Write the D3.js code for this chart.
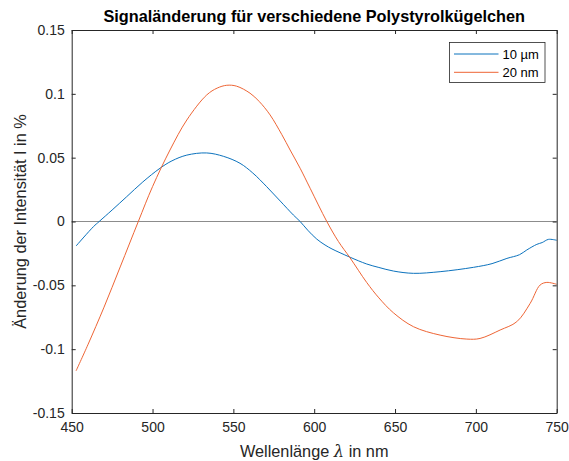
<!DOCTYPE html>
<html>
<head>
<meta charset="utf-8">
<script src="https://cdn.jsdelivr.net/npm/d3@7"></script>
<style>
  body { margin: 0; background: #fff; }
  svg { display: block; font-family: "Liberation Sans", Arial, sans-serif; }
</style>
</head>
<body>
<div id="chart"></div>
<script>
// wavelength (nm) and signal change for the two particle sizes
const lambdaBlue = [452.7, 463.4, 467, 475, 484, 494, 504.6, 512, 521.2, 533.5, 544, 554.1, 562, 570.6, 579, 587.1, 591.3, 596, 601.6, 606.7, 611, 616, 622.2, 632.5, 640, 649, 661.4, 677.9, 698.5, 710, 719.2, 727, 731.5, 737.7, 741, 744.9, 750];
const valuesBlue = [-0.0192, -0.0041, 0, 0.009, 0.0194, 0.031, 0.0417, 0.0475, 0.052, 0.0537, 0.051, 0.0456, 0.038, 0.0273, 0.016, 0.0051, 0, -0.0068, -0.0138, -0.0184, -0.0215, -0.0245, -0.028, -0.0333, -0.036, -0.0388, -0.0406, -0.0393, -0.0359, -0.033, -0.0289, -0.026, -0.0223, -0.0179, -0.0165, -0.014, -0.0147];

const lambdaOrange = [452.7, 460, 470, 480, 491.2, 500, 510.8, 521.2, 533.5, 540, 545.9, 552, 560.3, 566, 572.7, 580, 585.1, 591.3, 597.5, 607.8, 615, 622.2, 632.5, 640, 649, 661.4, 677.9, 694.4, 702.6, 715, 725.3, 733.6, 739.7, 743.9, 750];
const valuesOrange = [-0.117, -0.0966, -0.0671, -0.0356, 0, 0.0273, 0.056, 0.0795, 0.0991, 0.1045, 0.1067, 0.106, 0.1005, 0.094, 0.0835, 0.068, 0.056, 0.0417, 0.026, 0, -0.0157, -0.0285, -0.0478, -0.0598, -0.0715, -0.0824, -0.089, -0.0921, -0.0916, -0.085, -0.0785, -0.0641, -0.0498, -0.0477, -0.0492];

const seriesNames = ["10 µm", "20 nm"];
const seriesColors = ["#0b72bd", "#ee6535"];
const xTicks = [450, 500, 550, 600, 650, 700, 750];
const yTicks = [-0.15, -0.1, -0.05, 0, 0.05, 0.1, 0.15];
const yTickLabels = ["-0.15", "-0.1", "-0.05", "0", "0.05", "0.1", "0.15"];

const width = 569, height = 461;
const margin = { top: 30, right: 12.3, bottom: 48, left: 71.7 };
const axisColor = "#262626";

const svg = d3.select("#chart").append("svg")
    .attr("width", width).attr("height", height);

const x = d3.scaleLinear().domain([450, 750]).range([margin.left, width - margin.right]);
const y = d3.scaleLinear().domain([-0.15, 0.15]).range([height - margin.bottom, margin.top]);

// zero line
svg.append("line")
    .attr("x1", x(450)).attr("x2", x(750))
    .attr("y1", y(0)).attr("y2", y(0))
    .attr("stroke", "#8c8c8c").attr("stroke-width", 1);

const line = d3.line().x(d => x(d[0])).y(d => y(d[1])).curve(d3.curveCatmullRom.alpha(0.5));

const series = [
    d3.zip(lambdaBlue, valuesBlue),
    d3.zip(lambdaOrange, valuesOrange)
];

series.forEach((s, i) => {
    svg.append("path")
        .datum(s)
        .attr("d", line)
        .attr("fill", "none")
        .attr("stroke", seriesColors[i])
        .attr("stroke-width", 1);
});

// axes, ticks inward on all four sides (box on)
const tickLen = 4;
function styleAxis(g) {
    g.select(".domain").attr("stroke", axisColor).attr("stroke-width", 1);
    g.selectAll(".tick line").attr("stroke", axisColor);
    g.selectAll(".tick text").attr("fill", axisColor).attr("font-size", "14px")
        .attr("font-family", "Liberation Sans, Arial, sans-serif");
}

svg.append("g")
    .attr("transform", `translate(0,${y(-0.15)})`)
    .call(d3.axisBottom(x).tickValues(xTicks).tickSize(-tickLen).tickSizeOuter(0).tickPadding(9))
    .call(styleAxis);

svg.append("g")
    .attr("transform", `translate(0,${y(0.15)})`)
    .call(d3.axisTop(x).tickValues(xTicks).tickSize(-tickLen).tickSizeOuter(0).tickFormat(""))
    .call(styleAxis);

svg.append("g")
    .attr("transform", `translate(${x(450)},0)`)
    .call(d3.axisLeft(y).tickValues(yTicks).tickSize(-tickLen).tickSizeOuter(0).tickPadding(7)
        .tickFormat((d, i) => yTickLabels[i]))
    .call(styleAxis);

svg.append("g")
    .attr("transform", `translate(${x(750)},0)`)
    .call(d3.axisRight(y).tickValues(yTicks).tickSize(-tickLen).tickSizeOuter(0).tickFormat(""))
    .call(styleAxis);

// title
svg.append("text")
    .attr("x", (x(450) + x(750)) / 2).attr("y", 22)
    .attr("text-anchor", "middle")
    .attr("font-size", "16.3px").attr("font-weight", "bold").attr("fill", "#000")
    .text("Signaländerung für verschiedene Polystyrolkügelchen");

// axis labels
const xLabel = svg.append("text")
    .attr("x", (x(450) + x(750)) / 2).attr("y", 457)
    .attr("text-anchor", "middle")
    .attr("font-size", "16.3px").attr("fill", axisColor);
xLabel.append("tspan").text("Wellenlänge ");
xLabel.append("tspan").attr("font-style", "italic").attr("font-family", "DejaVu Serif, serif").text("λ");
xLabel.append("tspan").text(" in nm");

svg.append("text")
    .attr("transform", `translate(20.5,${(y(0.15) + y(-0.15)) / 2}) rotate(-90)`)
    .attr("text-anchor", "middle")
    .attr("dy", "0.35em")
    .attr("font-size", "16.3px").attr("fill", axisColor)
    .text("Änderung der Intensität I in %");

// legend
const legend = svg.append("g").attr("transform", "translate(449.5,42.5)");
legend.append("rect")
    .attr("width", 95.5).attr("height", 40)
    .attr("fill", "#fff").attr("stroke", axisColor).attr("stroke-width", 0.8);

seriesNames.forEach((name, i) => {
    const row = legend.append("g").attr("transform", `translate(0,${11.5 + i * 18.3})`);
    row.append("line")
        .attr("x1", 4.5).attr("x2", 49)
        .attr("stroke", seriesColors[i]).attr("stroke-width", 1);
    row.append("text")
        .attr("x", 53).attr("dy", "0.35em")
        .attr("font-size", "13px").attr("fill", "#000")
        .text(name);
});
</script>
</body>
</html>
